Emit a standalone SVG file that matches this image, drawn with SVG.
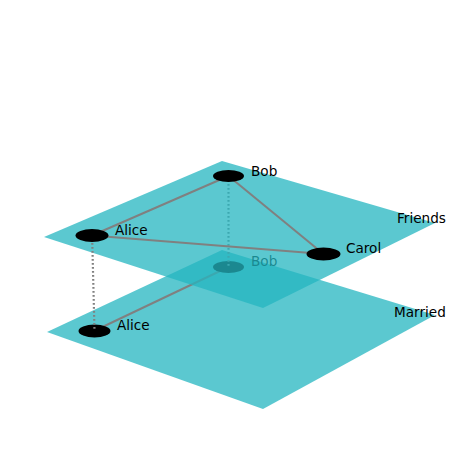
<svg xmlns="http://www.w3.org/2000/svg" width="469" height="470" viewBox="0 0 469 470">
<style>
.plane{fill:#24b5c0;fill-opacity:0.75;stroke:none}
.edge{stroke:#808080;stroke-width:2;fill:none}
.inter{stroke:#808080;stroke-width:2.2;stroke-dasharray:1.8 2.2;fill:none}
.node{fill:#000}
text{font-family:"DejaVu Sans",sans-serif;font-size:13.6px;fill:#000}
</style>
<rect width="469" height="470" fill="#fff"/>
<g id="layer-married">
<polygon class="plane" points="47,332 222,250 435,315 263,409"/>
</g>
<g id="connectors-lower">
<line class="edge" x1="94" y1="331" x2="228.5" y2="267"/>
</g>
<g id="node-bob-married">
<ellipse class="node" cx="228.5" cy="267" rx="15.5" ry="6"/>
<text x="251" y="266">Bob</text>
</g>
<g id="connectors-inter-bob">
<line class="inter" x1="228.5" y1="176" x2="228.5" y2="267"/>
</g>
<g id="layer-friends">
<polygon class="plane" points="44,237 222,161 435,223 263,308"/>
</g>
<g id="connectors">
<line class="edge" x1="92" y1="235.5" x2="228.5" y2="176"/>
<line class="edge" x1="228.5" y1="176" x2="323.5" y2="254"/>
<line class="edge" x1="92" y1="235.5" x2="323.5" y2="254"/>
</g>
<g id="node-alice-friends">
<ellipse class="node" cx="92" cy="235.5" rx="16.5" ry="6.5"/>
<text x="115" y="235">Alice</text>
</g>
<g id="node-bob-friends">
<ellipse class="node" cx="228.5" cy="176" rx="15.5" ry="6"/>
<text x="251" y="176">Bob</text>
</g>
<g id="node-carol-friends">
<ellipse class="node" cx="323.5" cy="254" rx="17" ry="6.5"/>
<text x="346" y="253">Carol</text>
</g>
<g id="node-alice-married">
<ellipse class="node" cx="94.5" cy="331" rx="16" ry="6.5"/>
<text x="117" y="330">Alice</text>
</g>
<g id="connectors-inter-alice">
<line class="inter" x1="92.3" y1="243" x2="94.5" y2="331"/>
</g>
<g id="labels">
<text x="397" y="223">Friends</text>
<text x="394" y="317">Married</text>
</g>
</svg>
